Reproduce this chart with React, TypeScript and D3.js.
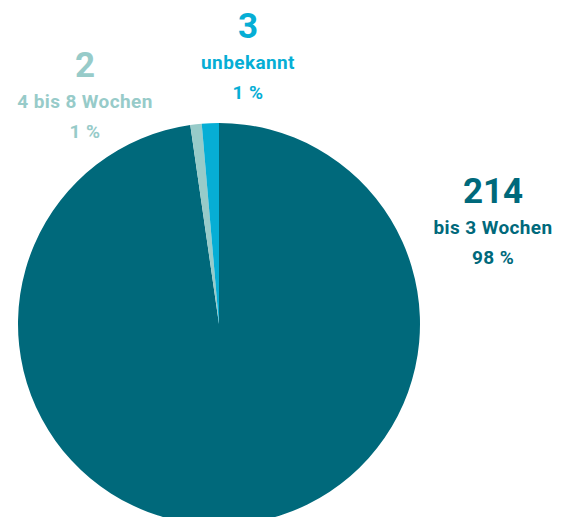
import React from 'react';
import * as d3 from 'd3';

const categories = ['bis 3 Wochen', '4 bis 8 Wochen', 'unbekannt'];
const counts = [214, 2, 3];
const shares = ['98 %', '1 %', '1 %'];
const colors = ['#00697b', '#97cbc9', '#06aed5'];

// hand placed label blocks (x centre, baseline of the big number)
const labelAnchors: Array<[number, number]> = [
  [493, 203],
  [85, 77],
  [248, 38],
];

const width = 562;
const height = 517;
const cx = 219;
const cy = 324;
const radius = 201;
const font = 'Roboto, "DejaVu Sans", sans-serif';

const App = () => {
  const pie = d3
    .pie<number>()
    .sort(null)
    .value((d) => d);
  const arcs = pie(counts);
  const arc = d3.arc<d3.PieArcDatum<number>>().innerRadius(0).outerRadius(radius);

  return (
    <svg
      width={width}
      height={height}
      style={{ position: 'fixed', left: 0, top: 0, background: '#fff' }}
      fontFamily={font}
      fontWeight={700}
    >
      <g transform={`translate(${cx},${cy})`}>
        {arcs.map((a, i) => (
          <path key={categories[i]} d={arc(a) || ''} fill={colors[i]} />
        ))}
      </g>
      {categories.map((c, i) => {
        const [x, y] = labelAnchors[i];
        return (
          <g key={c} fill={colors[i]} textAnchor="middle">
            <text x={x} y={y} fontSize={35}>
              {counts[i]}
            </text>
            <text x={x} y={y + 31} fontSize={19} letterSpacing={0.4}>
              {c}
            </text>
            <text x={x} y={y + 61} fontSize={19} letterSpacing={0.4}>
              {shares[i]}
            </text>
          </g>
        );
      })}
    </svg>
  );
};

export default App;
